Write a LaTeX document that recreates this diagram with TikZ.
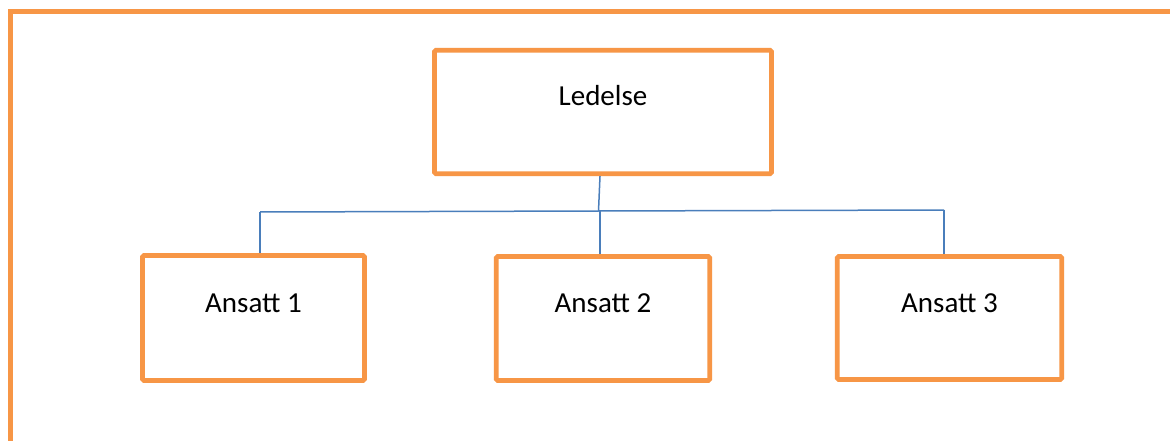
\documentclass[tikz,border=0pt]{standalone}
\usepackage{fontspec}
\setmainfont{Carlito}
\definecolor{accentorange}{HTML}{F79646}
\definecolor{linkblue}{HTML}{4A7EBB}
\begin{document}
\begin{tikzpicture}[x=1pt,y=-1pt,
  orgbox/.style={draw=accentorange, line width=4.7pt, rounded corners=1.5pt,
    fill=white, inner sep=0pt, text depth=32pt, text height=20pt,
    font=\fontsize{29}{35}\selectfont},
  link/.style={draw=linkblue, line width=1.5pt},
  frame/.style={draw=accentorange, line width=5pt}]
  \useasboundingbox (0,0) rectangle (1170,441);
  \fill[white] (0,0) rectangle (1170,441);

  % outer frame, open to the right and at the bottom
  \coordinate (fbl) at (10,460);
  \coordinate (ftl) at (10,12);
  \coordinate (ftr) at (1190,12);
  \draw[frame] (fbl) -- (ftl) -- (ftr);

  % boxes
  \node[orgbox, minimum width=337pt, minimum height=123.5pt] (led) at (603,112) {Ledelse};
  \node[orgbox, minimum width=222pt, minimum height=125pt] (a1) at (253.5,318) {Ansatt 1};
  \node[orgbox, minimum width=213.5pt, minimum height=124pt] (a2) at (603,318.5) {Ansatt 2};
  \node[orgbox, minimum width=224.5pt, minimum height=123pt] (a3) at (949.5,318) {Ansatt 3};

  % connector bus
  \coordinate (busL) at (260,212);
  \coordinate (busM) at (598.5,211);
  \coordinate (busD) at (600,211);
  \coordinate (busR) at (944,210);
  \draw[link] ([xshift=-3pt]led.south) -- (busM);
  \draw[link] (busL) -- (busM) -- (busR);
  \draw[link] (busL) -- (busL |- a1.north);
  \draw[link] (busD) -- (busD |- a2.north);
  \draw[link] (busR) -- (busR |- a3.north);
\end{tikzpicture}
\end{document}
